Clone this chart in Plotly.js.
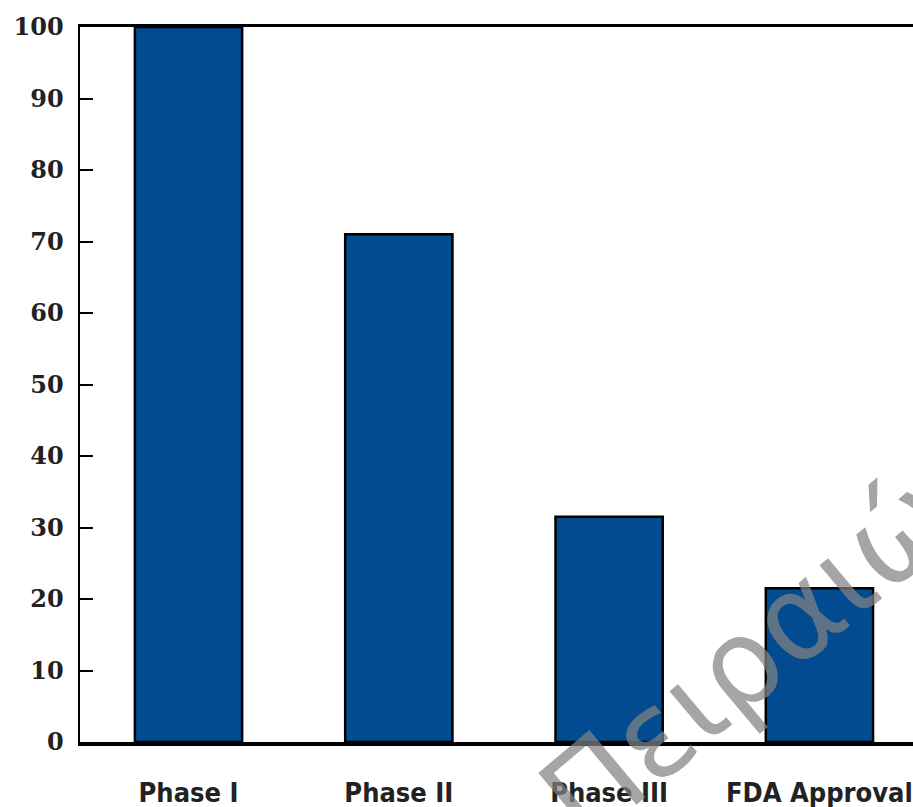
<!DOCTYPE html>
<html>
<head>
<meta charset="utf-8">
<script src="https://cdn.plot.ly/plotly-3.0.1.min.js"></script>
<style>html,body{margin:0;padding:0;background:#fff;}#chart{width:913px;height:807px;}</style>
</head>
<body>
<div id="chart"></div>
<script>
var categories = ["Phase I", "Phase II", "Phase III", "FDA Approval"];
var values = [100, 71, 31.5, 21.5];
var yTicks = [0, 10, 20, 30, 40, 50, 60, 70, 80, 90, 100];
var watermarkText = "Πειραιώς";

var trace = {
  type: "bar",
  x: categories,
  y: values,
  marker: {color: "#024b91", line: {color: "#000", width: 2.5}},
  hoverinfo: "skip"
};

var layout = {
  width: 913, height: 807,
  margin: {l: 80, r: 0, t: 27, b: 65},
  paper_bgcolor: "#fff", plot_bgcolor: "#fff",
  showlegend: false,
  bargap: 0.49,
  xaxis: {
    type: "category",
    range: [-0.516, 3.445],
    showline: true, linecolor: "#000", linewidth: 3.5, mirror: true,
    ticks: "", showgrid: false, zeroline: false,
    ticklabelstandoff: 24,
    tickfont: {family: "Liberation Sans Narrow, DejaVu Sans Condensed, sans-serif", size: 27, color: "#222", weight: "bold"}
  },
  yaxis: {
    range: [0, 100],
    tickvals: yTicks,
    ticktext: yTicks.map(String),
    showline: true, linecolor: "#000", linewidth: 2.5,
    ticks: "inside", ticklen: 13, tickwidth: 2, tickcolor: "#000",
    showgrid: false, zeroline: false,
    ticklabelstandoff: 9,
    tickfont: {family: "DejaVu Serif, serif", size: 24, color: "#222", weight: "bold"}
  },
  annotations: [{
    xref: "paper", yref: "paper", x: 0.834, y: 0.15,
    xanchor: "center", yanchor: "middle",
    text: watermarkText, showarrow: false, textangle: -40,
    font: {family: "DejaVu Sans, sans-serif", size: 120, color: "rgba(130,130,130,0.72)"}
  }]
};

Plotly.newPlot("chart", [trace], layout, {displayModeBar: false, staticPlot: true});
</script>
</body>
</html>
